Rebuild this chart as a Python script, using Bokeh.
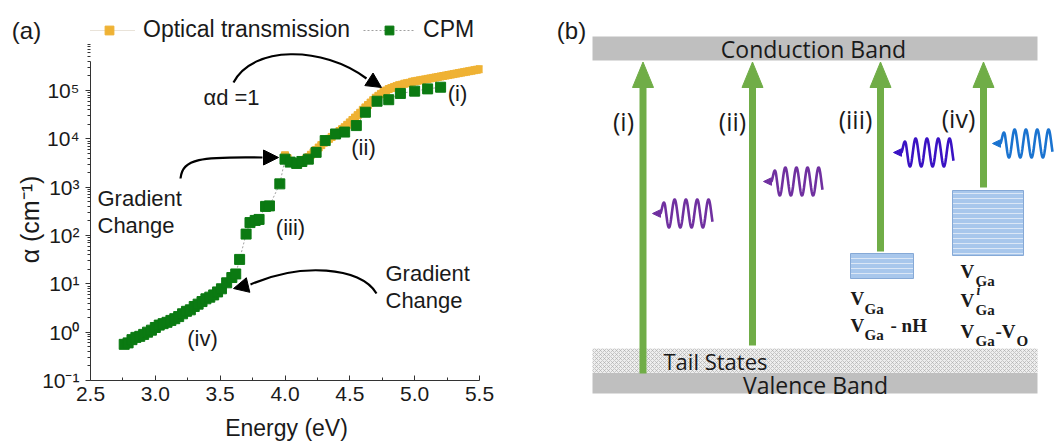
import numpy as np
from bokeh.plotting import figure
from bokeh.models import (Range1d, FixedTicker, CustomJSTickFormatter, Legend, LegendItem,
                          Label, Arrow, NormalHead, GridBox)
from bokeh.embed import file_html
from bokeh.resources import INLINE
from bokeh.core.properties import value

# ---------------- data ----------------
cpm_energy = [2.76, 2.79, 2.82, 2.85, 2.88, 2.91, 2.94, 2.97, 3.00, 3.03, 3.06, 3.09, 3.12, 3.15,
              3.18, 3.21, 3.24, 3.27, 3.30, 3.33, 3.36, 3.39, 3.42, 3.45, 3.48, 3.51, 3.55, 3.59,
              3.62, 3.65, 3.70, 3.73, 3.77, 3.80, 3.85, 3.88, 3.96, 4.00, 4.04, 4.09, 4.13, 4.18,
              4.24, 4.31, 4.39, 4.46, 4.55, 4.62, 4.71, 4.80, 4.89, 5.00, 5.10, 5.20]
cpm_alpha = [0.56, 0.60, 0.70, 0.78, 0.82, 0.90, 1.0, 1.1, 1.25, 1.4, 1.5, 1.6, 1.75, 1.9,
             2.1, 2.4, 2.7, 2.9, 3.4, 3.8, 4.3, 4.9, 5.3, 5.9, 6.8, 7.9, 10.5, 13.5,
             16, 32, 107, 185, 205, 215, 400, 410, 1170, 3800, 3300, 3100, 3400, 3800,
             5250, 9200, 12600, 13800, 18800, 35500, 60000, 64500, 87000, 97000, 108000, 117000]

opt_energy = [4.00, 4.02, 4.04, 4.06, 4.08, 4.10, 4.12, 4.14, 4.16, 4.18, 4.20, 4.22, 4.24, 4.26,
              4.28, 4.30, 4.32, 4.34, 4.36, 4.38, 4.40, 4.42, 4.44, 4.46, 4.48, 4.50, 4.52, 4.54,
              4.56, 4.58, 4.60, 4.62, 4.64, 4.66, 4.68, 4.70, 4.72, 4.74, 4.76, 4.78, 4.80, 4.82,
              4.84, 4.86, 4.88, 4.90, 4.92, 4.94, 4.96, 4.98, 5.00, 5.02, 5.04, 5.06, 5.08, 5.10,
              5.12, 5.14, 5.16, 5.18, 5.20, 5.22, 5.24, 5.26, 5.28, 5.30, 5.32, 5.34, 5.36, 5.38,
              5.40, 5.42, 5.44, 5.46, 5.48, 5.50]
opt_alpha = [4570, 3980, 3470, 3160, 2950, 2950, 3160, 3470, 3800, 4170, 4680, 5250, 5890, 6610,
             7410, 8320, 9120, 10000, 10960, 12020, 13180, 14450, 15850, 17380, 19500, 21880, 24550, 27540,
             30900, 34670, 39810, 44670, 50120, 56230, 63100, 70790, 77620, 85110, 93330, 100000, 107200, 112200,
             117500, 123000, 128800, 131800, 138000, 141300, 144500, 151400, 154900, 158500, 162200, 166000, 169800, 173800,
             177800, 182000, 186200, 190500, 195000, 199500, 204200, 208900, 213800, 218800, 223900, 229100, 234400, 239900,
             245500, 251200, 257000, 263000, 269200, 275400]

x_ticks = [2.5, 3.0, 3.5, 4.0, 4.5, 5.0, 5.5]
x_minor = [2.75, 3.25, 3.75, 4.25, 4.75, 5.25]
y_ticks = [1e-1, 1e0, 1e1, 1e2, 1e3, 1e4, 1e5]
y_minor = [m * 10.0 ** k for k in range(-1, 6) for m in range(2, 10)]

series_names = ["Optical transmission", "CPM"]
transitions = ["(i)", "(ii)", "(iii)", "(iv)"]

# ---------------- panel (a) ----------------
FL, FB = 90, 380              # frame left / bottom in page pixels (x=2.5, y=1e-1)
X55 = 479                     # page x of E = 5.5
FR = 482                      # frame right edge
DEC = (FB - 90) / 6.0         # pixels per decade (1e5 at y=90)
X_END = 2.5 + (FR - FL) * 3.0 / (X55 - FL)
Y_END = 10 ** (-1 + FB / DEC)
Y_AXIS_TOP = 10 ** (-1 + (FB - 61) / DEC)

def ax(px):
    return 2.5 + (px - FL) * 3.0 / (X55 - FL)

def ay(py):
    return 10 ** (-1 + (FB - py) / DEC)

SANS = "Liberation Sans"
TXT = "#1a1a1a"

pa = figure(width=530, height=448, x_range=Range1d(2.5, X_END), y_range=Range1d(0.1, Y_END),
            y_axis_type="log", output_backend="svg", toolbar_location=None,
            min_border_left=FL, min_border_right=530 - FR, min_border_top=0,
            min_border_bottom=448 - FB)
pa.outline_line_color = None
pa.xgrid.visible = False
pa.ygrid.visible = False

pa.xaxis.ticker = FixedTicker(ticks=x_ticks, minor_ticks=x_minor)
pa.xaxis.formatter = CustomJSTickFormatter(code="return tick.toFixed(1);")
pa.yaxis.ticker = FixedTicker(ticks=y_ticks, minor_ticks=y_minor)
pa.yaxis.formatter = CustomJSTickFormatter(code="""
const s = {"-":"\u207b","0":"\u2070","1":"\u00b9","2":"\u00b2","3":"\u00b3","4":"\u2074","5":"\u2075","6":"\u2076"};
const e = Math.round(Math.log10(tick)).toString();
return "10" + e.split("").map(c => s[c]).join("");
""")
pa.xaxis.bounds = (2.5, 5.5)
pa.yaxis.bounds = (0.1, Y_AXIS_TOP)
for axis in (pa.xaxis, pa.yaxis):
    axis.axis_line_color = "#333333"
    axis.major_tick_line_color = "#333333"
    axis.minor_tick_line_color = "#333333"
    axis.major_label_text_font = SANS
    axis.major_label_text_font_size = "21px"
    axis.major_label_text_color = TXT
    axis.axis_label_text_font = SANS
    axis.axis_label_text_font_size = "23px"
    axis.axis_label_text_font_style = "normal"
    axis.axis_label_text_color = TXT
pa.xaxis.major_tick_in = 5
pa.xaxis.major_tick_out = 0
pa.xaxis.minor_tick_in = 3
pa.xaxis.minor_tick_out = 0
pa.xaxis.major_label_standoff = 6
pa.xaxis.axis_label = "Energy (eV)"
pa.xaxis.axis_label_standoff = 11
pa.yaxis.major_tick_in = 0
pa.yaxis.major_tick_out = 5
pa.yaxis.minor_tick_in = 0
pa.yaxis.minor_tick_out = 3
pa.yaxis.major_label_standoff = 6

ORANGE = "#efb234"
GREEN = "#0b7a12"
opt_line = pa.line(opt_energy, opt_alpha, line_color="#e9e3d9", line_width=1)
opt_sc = pa.scatter(opt_energy, opt_alpha, marker="square", size=7, fill_color=ORANGE,
                    line_color=ORANGE)
cpm_line = pa.line(cpm_energy, cpm_alpha, line_color="#a0a0a0", line_width=1, line_dash="2 2")
cpm_sc = pa.scatter(cpm_energy, cpm_alpha, marker="square", size=10, fill_color=GREEN,
                    line_color=GREEN)

legend = Legend(items=[LegendItem(label=series_names[0], renderers=[opt_line, opt_sc]),
                       LegendItem(label=series_names[1], renderers=[cpm_line, cpm_sc])],
                orientation="horizontal", location=(-7, FB - 43),
                label_text_font=SANS, label_text_font_size="23px", label_text_color=TXT,
                glyph_width=52, glyph_height=22, spacing=13, label_standoff=8,
                padding=0, margin=0, border_line_color=None, background_fill_alpha=0)
pa.add_layout(legend)

# curved arrows (page-pixel control points converted to data space)
curves = [
    # (p0, c1, c2, p3, head_from, head_tip)
    ((233, 82), (252, 45), (322, 45), (366, 78), (358, 72), (381, 87)),
    ((180, 178), (182, 158), (200, 156), (262, 157), (258, 157), (278, 157)),
    ((376, 293), (360, 266), (300, 262), (250, 284), (254, 283), (233, 288)),
]
for p0, c1, c2, p3, hf, ht in curves:
    pa.bezier(x0=[ax(p0[0])], y0=[ay(p0[1])], x1=[ax(p3[0])], y1=[ay(p3[1])],
              cx0=[ax(c1[0])], cy0=[ay(c1[1])], cx1=[ax(c2[0])], cy1=[ay(c2[1])],
              line_color="black", line_width=2.2)
    pa.add_layout(Arrow(end=NormalHead(size=15, fill_color="black", line_color="black"),
                        x_start=ax(hf[0]), y_start=ay(hf[1]), x_end=ax(ht[0]), y_end=ay(ht[1]),
                        line_alpha=0))

a_labels = [
    ("\u03b1d =1", 231, 97),
    ("(i)", 457, 93),
    ("(ii)", 363, 147),
    ("(iii)", 290, 227),
    ("(iv)", 202, 338),
]
for t, x, y in a_labels:
    pa.add_layout(Label(x=ax(x), y=ay(y), text=t, text_align="center", text_baseline="middle",
                        text_font=SANS, text_font_size="22px", text_color=TXT))
for t, x, y in [("Gradient", 97, 198), ("Change", 97, 225), ("Gradient", 385, 273),
                ("Change", 385, 300)]:
    pa.add_layout(Label(x=ax(x), y=ay(y), text=t, text_align="left", text_baseline="middle",
                        text_font=SANS, text_font_size="22px", text_color=TXT))

# transparent overlay for the texts that sit left of the y axis
ov = figure(width=530, height=448, x_range=Range1d(0, 530), y_range=Range1d(448, 0),
            output_backend="svg", toolbar_location=None, x_axis_location=None,
            y_axis_location=None, min_border=0)
ov.outline_line_color = None
ov.grid.visible = False
ov.background_fill_alpha = 0
ov.border_fill_alpha = 0
ov.add_layout(Label(x=26, y=30, text="(a)", text_align="center", text_baseline="middle",
                    text_font=SANS, text_font_size="24px", text_color=TXT))
ov.add_layout(Label(x=29, y=219, text="\u03b1 (cm\u207b\u00b9)", angle=90, angle_units="deg",
                    text_align="center", text_baseline="middle",
                    text_font=SANS, text_font_size="25px", text_color=TXT))

# ---------------- panel (b) ----------------
pb = figure(width=526, height=448, x_range=Range1d(530, 1056), y_range=Range1d(448, 0),
            output_backend="svg", toolbar_location=None, x_axis_location=None,
            y_axis_location=None, min_border=0)
pb.outline_line_color = None
pb.grid.visible = False

for f in (pa, ov, pb):
    if hasattr(f, "frame_align"):
        f.frame_align = False

BAND_L, BAND_R = 592, 1037
GRAY = "#bfbfbf"
pb.quad(left=[BAND_L], right=[BAND_R], top=[36], bottom=[60], fill_color=GRAY, line_color=None)
pb.quad(left=[BAND_L], right=[BAND_R], top=[348], bottom=[372.5], fill_color="#eeeeee",
        line_color=None, hatch_pattern="diagonal_cross", hatch_color="#a9a9a9",
        hatch_scale=4, hatch_weight=0.6)
pb.quad(left=[BAND_L], right=[BAND_R], top=[372.5], bottom=[393], fill_color=GRAY, line_color=None)

# defect level boxes
pb.quad(left=[850, 952], right=[913, 1023], top=[253, 190], bottom=[278, 255],
        fill_color="#a8c7ec", line_color="#86a9d6", line_width=1,
        hatch_pattern="horizontal_line", hatch_color="#dbe7f6", hatch_scale=5, hatch_weight=1)

# green transition arrows
GA = "#70ad47"
arrow_x = [642.5, 752, 880, 983]
arrow_bottom = [373, 345, 251, 187]
HEAD_TIP, HEAD_BASE, HEAD_HW = 61.5, 87, 10.5
pb.segment(x0=arrow_x, y0=arrow_bottom, x1=arrow_x, y1=[HEAD_BASE] * 4, line_color=GA,
           line_width=7, line_cap="butt")
pb.patches(xs=[[x - HEAD_HW, x, x + HEAD_HW] for x in arrow_x],
           ys=[[HEAD_BASE, HEAD_TIP, HEAD_BASE]] * 4, fill_color=GA, line_color=GA)

# photon waves
waves = [  # tip x, mid y, end x, colour
    (652, 213, 712, "#7030a0"),
    (763, 181, 822, "#7030a0"),
    (893, 152, 953, "#3a12c4"),
    (992, 143, 1052, "#1a73d0"),
]
for xt, ym, xe, col in waves:
    start = xt + 8
    t = np.linspace(0, 1, 300)
    xs = np.concatenate([[xt + 3], start + t * (xe - start)])
    ys = np.concatenate([[ym], ym - 14 * np.sin(2 * np.pi * 4.6 * t) * np.minimum(1, t * 8 + 0.3)])
    pb.line(xs, ys, line_color=col, line_width=2.6)
    pb.patch([xt, xt + 8, xt + 8], [ym, ym - 3.8, ym + 3.8], fill_color=col, line_color=col)

SANS_B = "Open Sans"
pb.text(x=[813, 815], y=[48, 384], text=["Conduction Band", "Valence Band"],
        text_font=value(SANS_B), text_font_size="23px", text_align="center",
        text_baseline="middle", text_color=TXT)
pb.text(x=[663], y=[360], text=["Tail States"], text_font=value(SANS_B), text_font_size="22px",
        text_align="left", text_baseline="middle", text_color=TXT)
pb.text(x=[623, 732, 855, 958], y=[120, 120, 118, 117], text=transitions,
        text_font=value(SANS_B), text_font_size="25px", text_align="center",
        text_baseline="middle", text_color=TXT)
pb.text(x=[571], y=[30], text=["(b)"], text_font=value(SANS), text_font_size="24px",
        text_align="center", text_baseline="middle", text_color=TXT)

SERIF = "Liberation Serif"
big = [("V", 850, 298), ("V", 850, 325), ("- nH", 890, 325),
       ("V", 960, 271), ("V", 960, 300), ("V", 960, 331), ("-V", 995, 331)]
small = [("Ga", 864, 308), ("Ga", 864, 334), ("Ga", 975, 280), ("Ga", 975, 309),
         ("Ga", 975, 340), ("O", 1016, 340)]
pb.text(x=[b[1] for b in big], y=[b[2] for b in big], text=[b[0] for b in big],
        text_font=value(SERIF), text_font_style="bold", text_font_size="19px",
        text_align="left", text_baseline="alphabetic", text_color=TXT)
pb.text(x=[s[1] for s in small], y=[s[2] for s in small], text=[s[0] for s in small],
        text_font=value(SERIF), text_font_style="bold", text_font_size="15px",
        text_align="left", text_baseline="alphabetic", text_color=TXT)
pb.text(x=[976], y=[290], text=["i"], text_font=value(SERIF), text_font_style="bold italic",
        text_font_size="14px", text_align="left", text_baseline="alphabetic", text_color=TXT)

layout = GridBox(children=[(pa, 0, 0), (ov, 0, 0), (pb, 0, 1)], spacing=0)
open("out.html", "w").write(file_html(layout, INLINE))
